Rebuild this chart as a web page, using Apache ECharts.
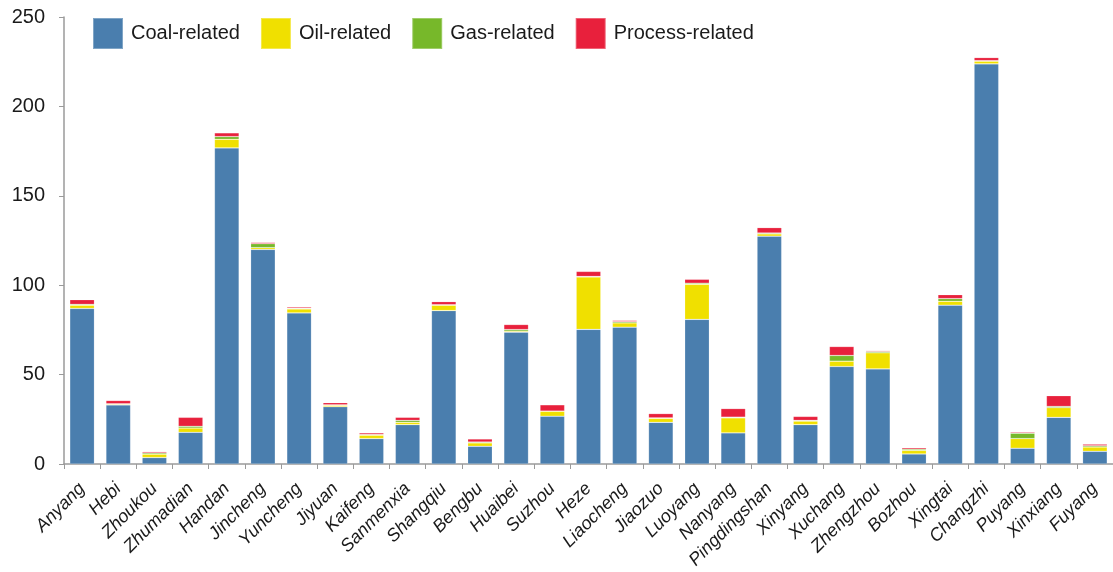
<!DOCTYPE html>
<html>
<head>
<meta charset="utf-8">
<title>Emissions by city</title>
<script src="https://cdn.jsdelivr.net/npm/echarts@6/dist/echarts.min.js"></script>
<style>
  html, body { margin: 0; padding: 0; background: #fff; }
  #main { width: 1113px; height: 572px; }
</style>
</head>
<body>
<div id="main"></div>
<script>
// cities along the x axis
const cities = ['Anyang', 'Hebi', 'Zhoukou', 'Zhumadian', 'Handan', 'Jincheng', 'Yuncheng', 'Jiyuan',
  'Kaifeng', 'Sanmenxia', 'Shangqiu', 'Bengbu', 'Huaibei', 'Suzhou', 'Heze', 'Liaocheng', 'Jiaozuo',
  'Luoyang', 'Nanyang', 'Pingdingshan', 'Xinyang', 'Xuchang', 'Zhengzhou', 'Bozhou', 'Xingtai',
  'Changzhi', 'Puyang', 'Xinxiang', 'Fuyang']

// stacked values
const coal = [87, 33, 3.6, 17.7, 176.8, 120, 84.5, 32, 14.2, 22, 85.8, 9.9, 73.7, 26.7, 75.3, 76.5, 23.3,
  80.9, 17.4, 127.4, 22, 54.5, 53.2, 5.6, 88.8, 223.8, 8.8, 26.1, 7.1]
const oil = [1.8, 0.5, 1.9, 2.4, 4.8, 1, 2.2, 0.8, 1.9, 1.3, 3.0, 1.9, 0.6, 2.8, 29.3, 2.4, 2.2,
  19.6, 8.4, 1.3, 2.0, 3.0, 9.0, 2.0, 2.2, 1.5, 5.4, 5.4, 2.4]
const gas = [0.5, 0.2, 0.7, 1.0, 1.5, 2.2, 0.4, 0.3, 0.4, 1.1, 0.3, 0.5, 0.9, 0.1, 0.3, 0.7, 0.3,
  0.6, 0.4, 0.5, 0.4, 3.2, 0.7, 0.7, 1.5, 0.3, 3.0, 0.7, 0.7]
const process = [2.6, 1.8, 0.7, 5.0, 2.1, 0.7, 0.7, 1.2, 0.9, 1.7, 1.7, 1.7, 2.8, 3.5, 2.8, 0.7, 2.4,
  2.2, 4.8, 3.0, 2.2, 5.0, 0.5, 0.8, 2.2, 1.7, 0.6, 6.0, 0.9]

const yTicks = [0, 50, 100, 150, 200, 250]

const chart = echarts.init(document.getElementById('main'))

function makeSeries(name, data, color) {
  return {
    name: name,
    type: 'bar',
    stack: 'total',
    barCategoryGap: '32%',
    data: data,
    itemStyle: {
      color: color,
      borderColor: 'rgba(255,255,255,0.3)',
      borderWidth: 0.6
    }
  }
}

const option = {
  animation: false,
  textStyle: { fontFamily: 'Liberation Sans, Arial, sans-serif' },
  legend: {
    left: 87,
    top: 12,
    itemWidth: 30,
    itemHeight: 31,
    itemGap: 20,
    icon: 'rect',
    textStyle: { fontSize: 20, color: '#1a1a1a', padding: [0, 0, 0, 3] },
    data: ['Coal-related', 'Oil-related', 'Gas-related', 'Process-related']
  },
  grid: { left: 64, right: -5, top: 17, bottom: 108 },
  xAxis: {
    type: 'category',
    data: cities,
    axisLine: { lineStyle: { color: '#9a9a9a', width: 1.5 } },
    axisTick: { show: true, length: 5, lineStyle: { color: '#9a9a9a' } },
    axisLabel: {
      rotate: 45,
      interval: 0,
      margin: 22,
      fontSize: 18,
      fontStyle: 'italic',
      color: '#1a1a1a'
    }
  },
  yAxis: {
    type: 'value',
    min: yTicks[0],
    max: yTicks[yTicks.length - 1],
    interval: 50,
    splitLine: { show: false },
    axisLine: { show: true, lineStyle: { color: '#9a9a9a', width: 1.5 } },
    axisTick: { show: true, length: 5, lineStyle: { color: '#9a9a9a' } },
    axisLabel: { fontSize: 20, color: '#1a1a1a', margin: 19 }
  },
  series: [
    makeSeries('Coal-related', coal, '#4a7eae'),
    makeSeries('Oil-related', oil, '#f0e000'),
    makeSeries('Gas-related', gas, '#77b82a'),
    makeSeries('Process-related', process, '#e8203c')
  ]
}

chart.setOption(option)
</script>
</body>
</html>
